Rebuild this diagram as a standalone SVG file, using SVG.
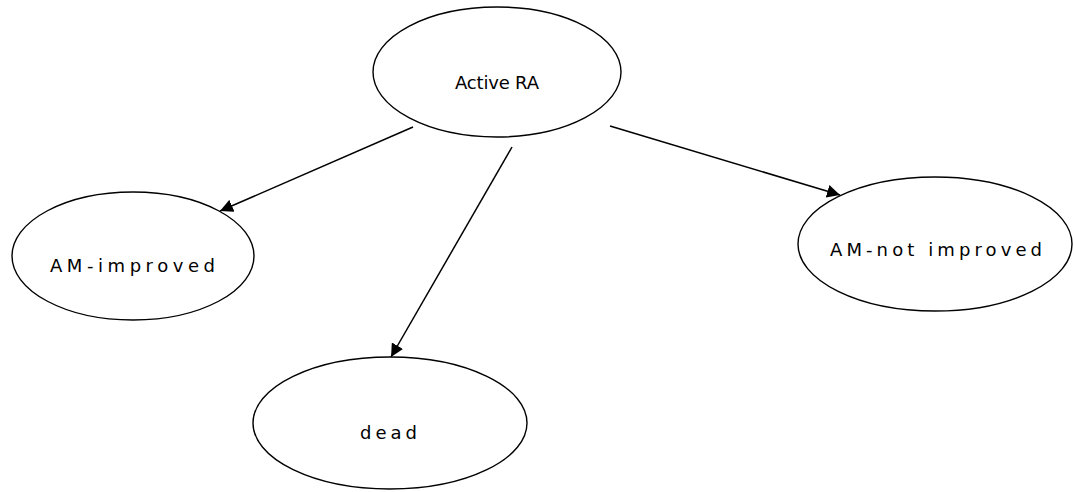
<svg xmlns="http://www.w3.org/2000/svg" width="1074" height="492" viewBox="0 0 1074 492">
  <defs>
    <style>
      .node ellipse { fill: #ffffff; stroke: #000000; stroke-width: 1.4; }
      .node text { font-family: "DejaVu Sans", "Liberation Sans", sans-serif; font-size: 18px; fill: #000000; text-anchor: start; }
      .edge { stroke: #000000; stroke-width: 1.5; fill: none; marker-end: url(#arrow); }
    </style>
    <marker id="arrow" viewBox="0 0 10 10" refX="10" refY="5" markerWidth="13" markerHeight="13" markerUnits="userSpaceOnUse" orient="auto">
      <path d="M0,0 L10,5 L0,10 z" fill="#000000"/>
    </marker>
  </defs>
  <rect width="1074" height="492" fill="#ffffff"/>

  <g id="edges">
    <line class="edge" x1="413" y1="127" x2="220" y2="211"/>
    <line class="edge" x1="512" y1="147" x2="391" y2="357"/>
    <line class="edge" x1="610" y1="126" x2="840" y2="195"/>
  </g>

  <g id="node-active-ra" class="node">
    <ellipse cx="497" cy="72" rx="124" ry="65"/>
    <text x="455" y="89" textLength="84" lengthAdjust="spacing">Active RA</text>
  </g>

  <g id="node-am-improved" class="node">
    <ellipse cx="133" cy="256" rx="121" ry="64"/>
    <text x="50" y="272" textLength="165" lengthAdjust="spacing">AM-improved</text>
  </g>

  <g id="node-am-not-improved" class="node">
    <ellipse cx="935" cy="244" rx="137" ry="67"/>
    <text x="830" y="256" textLength="212" lengthAdjust="spacing">AM-not improved</text>
  </g>

  <g id="node-dead" class="node">
    <ellipse cx="390" cy="423" rx="137" ry="66"/>
    <text x="360" y="439" textLength="57" lengthAdjust="spacing">dead</text>
  </g>
</svg>
